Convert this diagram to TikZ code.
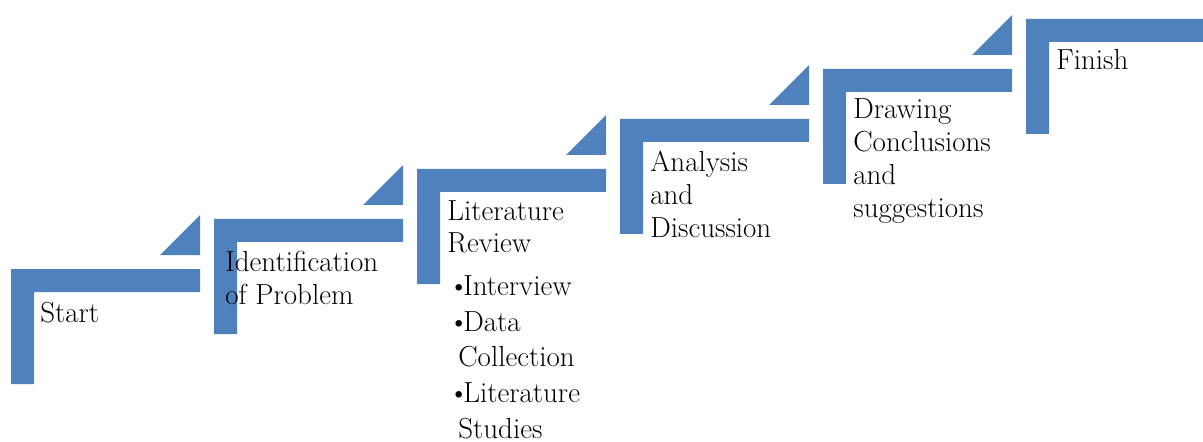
\documentclass[tikz,border=0pt]{standalone}
\definecolor{stepblue}{HTML}{4F81BD}
\tikzset{
  stepbar/.style={fill=stepblue,draw=none},
  steptext/.style={anchor=base west,align=left,inner sep=0pt,font=\fontsize{16.5}{18.7}\selectfont},
  itemtext/.style={steptext,font=\fontsize{16.5}{20.3}\selectfont}
}
\begin{document}
\begin{tikzpicture}[x=0.02cm,y=-0.02cm]
			\useasboundingbox (0,0) rectangle (1203,442);
			% steps
			\fill[stepbar](11,269)--(200,269)--(200,292)--(34,292)--(34,384)--(11,384)--cycle;
			\fill[stepbar](160,255)--(200,255)--(200,215)--cycle;
			\fill[stepbar](214,219)--(403,219)--(403,242)--(237,242)--(237,334)--(214,334)--cycle;
			\fill[stepbar](363,205)--(403,205)--(403,165)--cycle;
			\fill[stepbar](417,169)--(606,169)--(606,192)--(440,192)--(440,284)--(417,284)--cycle;
			\fill[stepbar](566,155)--(606,155)--(606,115)--cycle;
			\fill[stepbar](620,119)--(809,119)--(809,142)--(643,142)--(643,234)--(620,234)--cycle;
			\fill[stepbar](769,105)--(809,105)--(809,65)--cycle;
			\fill[stepbar](823,69)--(1012,69)--(1012,92)--(846,92)--(846,184)--(823,184)--cycle;
			\fill[stepbar](972,55)--(1012,55)--(1012,15)--cycle;
			\fill[stepbar](1026,19)--(1203,19)--(1203,42)--(1049,42)--(1049,134)--(1026,134)--cycle;
			% labels (anchored at the baseline of the last line)
			\node (start) at(40,322)[steptext]{Start};
			\node (ident) at(225,304)[steptext]{Identification\\of Problem};
			\node (review) at(447,253)[steptext]{Literature\\Review};
			\node (items) at(448,438)[itemtext]{\makebox[0.3cm][l]{\textbullet}Interview\\
				\makebox[0.3cm][l]{\textbullet}Data\\\hspace*{0.2cm}Collection\\
				\makebox[0.3cm][l]{\textbullet}Literature\\\hspace*{0.2cm}Studies};
			\node (analysis) at(650,237)[steptext]{Analysis\\and\\Discussion};
			\node (drawing) at(853,217)[steptext]{Drawing\\Conclusions\\and\\suggestions};
			\node (finish) at(1056,70)[steptext]{Finish};
\end{tikzpicture}
\end{document}
